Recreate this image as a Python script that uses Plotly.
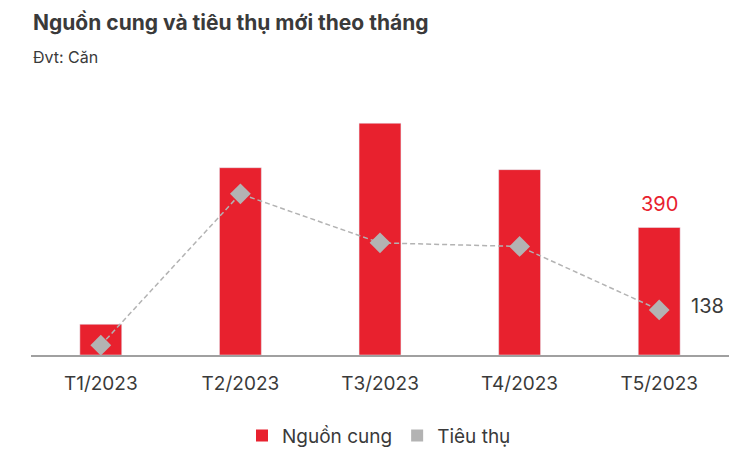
import plotly.graph_objects as go

# Daten
thang = ['T1/2023', 'T2/2023', 'T3/2023', 'T4/2023', 'T5/2023']
nguon_cung = [94, 573, 709, 567, 390]
tieu_thu = [30, 493, 343, 332, 138]

mau_do = '#e8212e'
mau_xam = '#b3b3b3'
mau_chu = '#3a3a3a'
font_chu = 'Inter, Roboto, sans-serif'

fig = go.Figure()

# Saeulen
fig.add_trace(go.Bar(x=thang, y=nguon_cung, marker_color=mau_do, width=0.3,
                     showlegend=False, hoverinfo='y'))

# Linie
fig.add_trace(go.Scatter(x=thang, y=tieu_thu, mode='lines+markers',
                         line=dict(color=mau_xam, width=1.5, dash='5px,3px'),
                         marker=dict(symbol='diamond', size=16, color=mau_xam),
                         showlegend=False))

# Legende
fig.add_trace(go.Scatter(x=[None], y=[None], mode='markers', name='Nguồn cung',
                         marker=dict(symbol='square', size=12, color=mau_do)))
fig.add_trace(go.Scatter(x=[None], y=[None], mode='markers', name='Tiêu thụ',
                         marker=dict(symbol='square', size=12, color=mau_xam)))

# Beschriftung letzter Wert
fig.add_annotation(x=thang[-1], y=nguon_cung[-1], text=str(nguon_cung[-1]),
                   showarrow=False, yshift=24, font=dict(size=20, color=mau_do))
fig.add_annotation(x=thang[-1], y=tieu_thu[-1], text=str(tieu_thu[-1]),
                   showarrow=False, xshift=48, yshift=4, font=dict(size=20, color=mau_chu))

# Titel
fig.add_annotation(xref='paper', yref='paper', x=0.0, y=1.0, yshift=79, xanchor='left',
                   yanchor='middle', text='<b>Nguồn cung và tiêu thụ mới theo tháng</b>',
                   showarrow=False, font=dict(size=21, color=mau_chu))
fig.add_annotation(xref='paper', yref='paper', x=0.0, y=1.0, yshift=44, xanchor='left',
                   yanchor='middle', text='Đvt: Căn', showarrow=False,
                   font=dict(size=16, color=mau_chu))

fig.update_layout(
    width=742, height=456,
    margin=dict(l=23, r=21, t=93, b=109),
    plot_bgcolor='white', paper_bgcolor='white',
    font=dict(family=font_chu, color=mau_chu),
    xaxis=dict(showgrid=False, showline=True, linecolor='#a0a0a0', linewidth=1.5,
               ticks='', ticklabelstandoff=10, tickfont=dict(size=19, color=mau_chu)),
    yaxis=dict(range=[0, 777], visible=False),
    legend=dict(orientation='h', xref='container', yref='container', x=0.5, xanchor='center',
                y=0.062, yanchor='middle', font=dict(size=19, color=mau_chu), itemwidth=30),
)

fig.write_html("out.html")
